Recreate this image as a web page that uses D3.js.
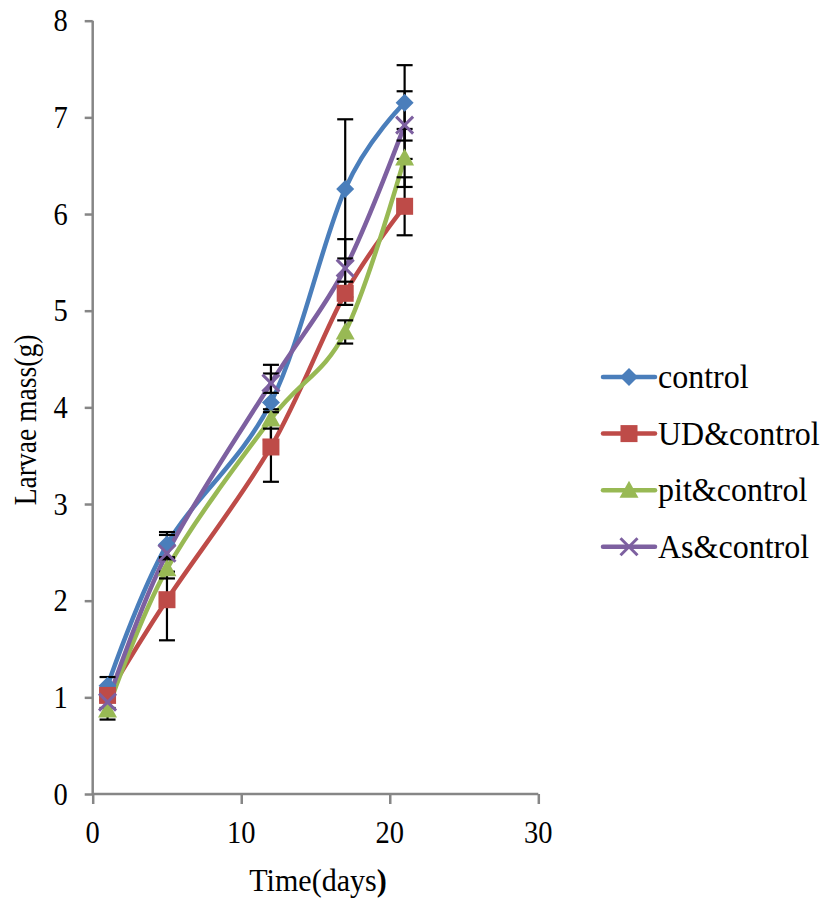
<!DOCTYPE html>
<html>
<head>
<meta charset="utf-8">
<script src="https://cdn.jsdelivr.net/npm/d3@7"></script>
<style>
  html, body { margin: 0; padding: 0; background: #fff; }
  svg { display: block; }
  text { font-family: "Liberation Serif", "Times New Roman", serif; fill: #000; }
</style>
</head>
<body>
<svg id="chart" width="823" height="899"></svg>
<script>
// Sampling days
const days = [1, 5, 12, 17, 21];

// Mean larvae mass (g) per treatment
const seriesNames = ["control", "UD&control", "pit&control", "As&control"];
const controlMass = [1.12, 2.58, 4.05, 6.26, 7.15];
const udMass      = [1.02, 2.01, 3.59, 5.18, 6.08];
const pitMass     = [0.87, 2.33, 3.88, 4.78, 6.58];
const asMass      = [0.95, 2.49, 4.25, 5.44, 6.92];

// Error (± g) per point
const controlErr = [0.09, 0.13, 0.39, 0.72, 0.39];
const udErr      = [0.05, 0.42, 0.36, 0.12, 0.30];
const pitErr     = [0.10, 0.10, 0.10, 0.12, 0.30];
const asErr      = [0.06, 0.19, 0.10, 0.30, 0.35];

const colors = ["#4A7EBB", "#BE4B48", "#98B954", "#7D60A0"];
const symbols = ["diamond", "square", "triangle", "cross"];

// Axis ticks
const xTicks = [0, 10, 20, 30];
const yTicks = [0, 1, 2, 3, 4, 5, 6, 7, 8];

const series = [
  { name: seriesNames[0], values: controlMass, err: controlErr },
  { name: seriesNames[1], values: udMass, err: udErr },
  { name: seriesNames[2], values: pitMass, err: pitErr },
  { name: seriesNames[3], values: asMass, err: asErr }
];

const svg = d3.select("#chart");

const x = d3.scaleLinear().domain([0, 30]).range([92.7, 538.3]);
const y = d3.scaleLinear().domain([0, 8]).range([794, 20.7]);

const axisColor = "#868686";

// Axes (tick lines only; labels drawn below with a slightly condensed face)
const xAxis = svg.append("g")
  .attr("transform", `translate(0,${y(0)})`)
  .call(d3.axisBottom(x).tickValues(xTicks).tickSize(10).tickFormat(""));
const yAxis = svg.append("g")
  .attr("transform", `translate(${x(0)},0)`)
  .call(d3.axisLeft(y).tickValues(yTicks).tickSize(8).tickFormat(""));

[xAxis, yAxis].forEach(a => {
  a.select(".domain").attr("stroke", axisColor).attr("stroke-width", 2.5);
  a.selectAll(".tick line").attr("stroke", axisColor).attr("stroke-width", 2.5);
});
xAxis.select(".domain").attr("d", `M${x(0)},0H${x(30)}`);
yAxis.select(".domain").attr("d", `M0,${y(0)}V${y(8)}`);

svg.append("g").selectAll("text")
  .data(xTicks)
  .join("text")
  .attr("transform", d => `translate(${x(d)},${y(0) + 49}) scale(0.92,1)`)
  .attr("text-anchor", "middle")
  .style("font-size", "31px")
  .text(d => d3.format("d")(d));

svg.append("g").selectAll("text")
  .data(yTicks)
  .join("text")
  .attr("transform", d => `translate(${x(0) - 25},${y(d) + 10.5}) scale(0.92,1)`)
  .attr("text-anchor", "end")
  .style("font-size", "31px")
  .text(d => d3.format("d")(d));

// Axis titles
const xTitle = svg.append("text")
  .attr("transform", "translate(318,891) scale(0.97,1)")
  .attr("text-anchor", "middle")
  .style("font-size", "31px");
xTitle.append("tspan").text("Time(days");
xTitle.append("tspan").style("font-weight", "bold").text(")");

svg.append("text")
  .attr("transform", "translate(36,420) rotate(-90) scale(0.89,1)")
  .attr("text-anchor", "middle")
  .style("font-size", "31px")
  .text("Larvae mass(g)");

// Smoothed lines
const line = d3.line()
  .x((d, i) => x(days[i]))
  .y(d => y(d))
  .curve(d3.curveCatmullRom.alpha(0));

svg.append("g").selectAll("path")
  .data(series)
  .join("path")
  .attr("d", s => line(s.values))
  .attr("fill", "none")
  .attr("stroke", (s, i) => colors[i])
  .attr("stroke-width", 4.5)
  .attr("stroke-linejoin", "round")
  .attr("stroke-linecap", "round");

// Error bars
const capHalf = 8;
const errG = svg.append("g").attr("stroke", "#000").attr("stroke-width", 2.2);
series.forEach(s => {
  s.values.forEach((v, i) => {
    const cx = x(days[i]);
    const y1 = y(v + s.err[i]);
    const y2 = y(v - s.err[i]);
    errG.append("line").attr("x1", cx).attr("x2", cx).attr("y1", y1).attr("y2", y2);
    errG.append("line").attr("x1", cx - capHalf).attr("x2", cx + capHalf).attr("y1", y1).attr("y2", y1);
    errG.append("line").attr("x1", cx - capHalf).attr("x2", cx + capHalf).attr("y1", y2).attr("y2", y2);
  });
});

// Marker drawing
function drawMarker(g, kind, color, cx, cy) {
  if (kind === "diamond") {
    g.append("path")
      .attr("d", `M${cx},${cy - 9}L${cx + 9},${cy}L${cx},${cy + 9}L${cx - 9},${cy}Z`)
      .attr("fill", color);
  } else if (kind === "square") {
    g.append("rect")
      .attr("x", cx - 8.5).attr("y", cy - 8.5).attr("width", 17).attr("height", 17)
      .attr("fill", color);
  } else if (kind === "triangle") {
    g.append("path")
      .attr("d", `M${cx},${cy - 9.5}L${cx + 9.5},${cy + 7.5}L${cx - 9.5},${cy + 7.5}Z`)
      .attr("fill", color);
  } else {
    g.append("path")
      .attr("d", `M${cx - 8.5},${cy - 8.5}L${cx + 8.5},${cy + 8.5}M${cx - 8.5},${cy + 8.5}L${cx + 8.5},${cy - 8.5}`)
      .attr("stroke", color).attr("stroke-width", 3).attr("fill", "none");
  }
}

const markG = svg.append("g");
series.forEach((s, si) => {
  s.values.forEach((v, i) => drawMarker(markG, symbols[si], colors[si], x(days[i]), y(v)));
});

// Legend
const legend = svg.append("g");
const legendY0 = 377, legendStep = 56.6;
series.forEach((s, si) => {
  const ly = legendY0 + si * legendStep;
  legend.append("line")
    .attr("x1", 603).attr("x2", 655).attr("y1", ly).attr("y2", ly)
    .attr("stroke", colors[si]).attr("stroke-width", 4.5).attr("stroke-linecap", "round");
  drawMarker(legend, symbols[si], colors[si], 629, ly);
  legend.append("text")
    .attr("transform", `translate(658,${ly + 11}) scale(0.97,1)`)
    .style("font-size", "33px")
    .text(s.name);
});
</script>
</body>
</html>
